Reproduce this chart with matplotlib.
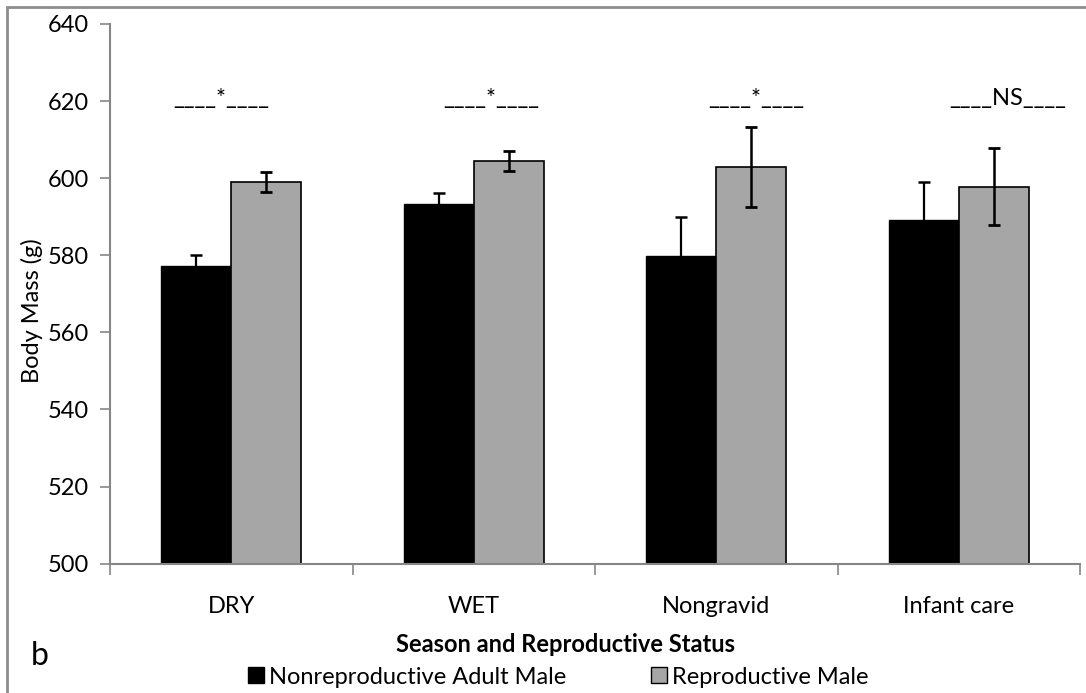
import matplotlib.pyplot as plt
import numpy as np
from matplotlib.patches import Rectangle
from matplotlib.lines import Line2D

plt.rcParams['font.family'] = ['Lato', 'DejaVu Sans']

# data
categories = ['DRY', 'WET', 'Nongravid', 'Infant care']
nonrepro = [577.2, 593.2, 579.7, 589.1]
nonrepro_err = [2.9, 3.0, 10.3, 9.8]
repro = [599.1, 604.5, 602.9, 597.8]
repro_err = [2.6, 2.6, 10.4, 10.0]
sig_labels = ['____*____', '____*____', '____*____', '____NS____']
sig_x = [-0.043, 1.074, 2.163, 3.2]

fig = plt.figure(figsize=(10.86, 6.93), dpi=100)
ax = fig.add_axes([110 / 1086, 1 - 563.7 / 693, (1080 - 110) / 1086, (563.7 - 24) / 693])

# chart border (left and top visible)
fig.patches.append(Rectangle((7 / 1086, -0.05), 1.2, 1 - 7 / 693 + 0.05, transform=fig.transFigure,
                             fill=False, edgecolor='#8c8c8c', linewidth=2, zorder=0))

x = np.arange(len(categories))
w = 0.288
grey = '#a6a6a6'
fs = 17

ax.bar(x - w / 2, nonrepro, w, color='black', edgecolor='black', linewidth=1, zorder=2)
ax.bar(x + w / 2, repro, w, color=grey, edgecolor='black', linewidth=1.2, zorder=2)
ax.errorbar(x - w / 2, nonrepro, yerr=nonrepro_err, fmt='none', ecolor='black',
            elinewidth=1.6, capsize=4.3, capthick=1.8, zorder=3)
ax.errorbar(x + w / 2, repro, yerr=repro_err, fmt='none', ecolor='black',
            elinewidth=1.8, capsize=4.3, capthick=2, zorder=3)

for xi, lab in zip(sig_x, sig_labels):
    ax.text(xi, 619.0, lab, ha='center', va='baseline', fontsize=fs, color='black')

ax.set_ylim(500, 640)
ax.set_xlim(-0.5, 3.5)
ax.set_yticks(np.arange(500, 641, 20))
ax.set_xticks(x)
ax.set_xticklabels(categories, fontsize=fs)
ax.set_xticks(np.arange(-0.5, 3.6, 1), minor=True)
ax.tick_params(axis='x', which='major', length=0, pad=23)
ax.tick_params(axis='x', which='minor', length=8, color='#868686', width=1.2)
ax.tick_params(axis='y', length=7, color='#868686', width=1.2, labelsize=fs, pad=8)

for s in ['top', 'right']:
    ax.spines[s].set_visible(False)
for s in ['left', 'bottom']:
    ax.spines[s].set_color('#868686')
    ax.spines[s].set_linewidth(1.5)

fig.text(32 / 1086, 1 - 311 / 693, 'Body Mass (g)', rotation=90, ha='center', va='center', fontsize=fs)
fig.text(566 / 1086, 1 - 645 / 693, 'Season and Reproductive Status', ha='center', va='center',
         fontsize=fs, fontweight='bold')
fig.text(40 / 1086, 1 - 656 / 693, 'b', ha='center', va='center', fontsize=23)

handles = [
    Line2D([], [], marker='s', linestyle='none', markersize=12, markerfacecolor='black', markeredgecolor='black'),
    Line2D([], [], marker='s', linestyle='none', markersize=12, markerfacecolor=grey, markeredgecolor='black'),
]
fig.legend(handles, ['Nonreproductive Adult Male', 'Reproductive Male'], loc='center',
           bbox_to_anchor=(557 / 1086, 1 - 677 / 693), ncol=2, frameon=False, fontsize=fs,
           handletextpad=0.1, columnspacing=3.5, handlelength=0.9, borderpad=0, borderaxespad=0)

fig.savefig('out.png', dpi=100)
